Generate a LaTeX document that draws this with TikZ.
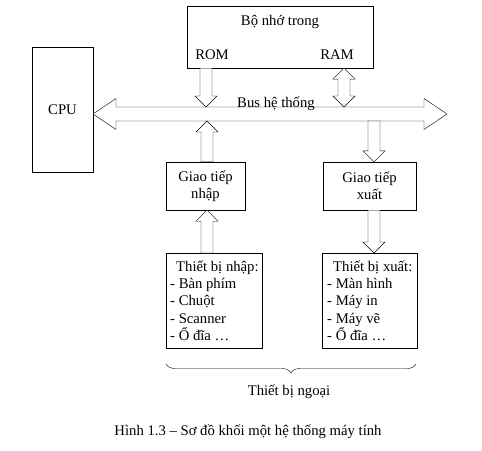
\documentclass[tikz,border=0pt]{standalone}
\usepackage{fontspec}
\setmainfont{Liberation Serif}
\usetikzlibrary{calc, positioning, decorations.pathreplacing}

\tikzset{
  box/.style={draw, rectangle, inner sep=0pt},
  blk/.style={draw, fill=white, line join=miter},
  txt/.style={inner sep=0pt}
}

% single block arrow at the x of #1, from #2 to #3
\newcommand{\sarrow}[3]{%
  \draw[blk] let \p1=(#1 |- #2), \p2=(#1 |- #3), \n1={11*sign(\y2-\y1)} in
    (\x1-6pt,\y1) -- (\x1-6pt,{\y2-\n1*1pt}) -- (\x1-11pt,{\y2-\n1*1pt}) -- (\x1,\y2)
    -- (\x1+11pt,{\y2-\n1*1pt}) -- (\x1+6pt,{\y2-\n1*1pt}) -- (\x1+6pt,\y1) -- cycle;}
% double block arrow
\newcommand{\darrow}[3]{%
  \draw[blk] let \p1=(#1 |- #2), \p2=(#1 |- #3), \n1={11*sign(\y2-\y1)} in
    (\x1,\y1) -- (\x1+11pt,{\y1+\n1*1pt}) -- (\x1+6pt,{\y1+\n1*1pt}) -- (\x1+6pt,{\y2-\n1*1pt})
    -- (\x1+11pt,{\y2-\n1*1pt}) -- (\x1,\y2) -- (\x1-11pt,{\y2-\n1*1pt}) -- (\x1-6pt,{\y2-\n1*1pt})
    -- (\x1-6pt,{\y1+\n1*1pt}) -- (\x1-11pt,{\y1+\n1*1pt}) -- cycle;}

\begin{document}
\begin{tikzpicture}[x=1pt, y=-1pt, font=\fontsize{14.7}{17.3}\selectfont]
\useasboundingbox (0,0) rectangle (482,450);

% blocks
\node[box, minimum width=186, minimum height=62] (mem) at (280,37) {};
\node[txt, anchor=base] (memt) at (280,25) {Bộ nhớ trong};
\node[txt, anchor=base] (rom) at (212,59) {ROM};
\node[txt, anchor=base] (ram) at (337,59) {RAM};
\node[box, minimum width=61, minimum height=125] (cpu) at (62.5,109.5) {CPU};
\node[box, minimum width=79, minimum height=48, align=center] (gtn) at (205.5,186) {Giao tiếp\\nhập};
\node[box, minimum width=93, minimum height=48, align=center] (gtx) at (369.5,186) {Giao tiếp\\xuất};
\node[box, anchor=north west, minimum width=95, minimum height=95, inner xsep=4, align=left] (tbn) at (166,253)
  {\hspace{6pt}Thiết bị nhập:\\- Bàn phím\\- Chuột\\- Scanner\\- Ổ đĩa …};
\node[box, anchor=north west, minimum width=94, minimum height=95, inner xsep=5, align=left] (tbx) at (322,253)
  {\hspace{6pt}Thiết bị xuất:\\- Màn hình\\- Máy in\\- Máy vẽ\\- Ổ đĩa …};

% bus
\coordinate (busL) at (93,114);
\coordinate (busR) at (447,114);
\coordinate (bustop) at (0,107);
\coordinate (busbot) at (0,121);
\draw[blk] (busL) -- ++(23,-15.5) -- ++(0,8.5) -- ($(busR)+(-23,-7)$) -- ++(0,-8.5) -- (busR)
  -- ++(-23,15.5) -- ++(0,-8.5) -- ($(busL)+(23,7)$) -- ++(0,8.5) -- cycle;
\node[txt, anchor=base] (bus) at (276,107) {Bus hệ thống};

% arrows
\coordinate (romx) at (206,0);
\coordinate (ramx) at (344,0);
\coordinate (inx) at (207,0);
\coordinate (outx) at (374,0);
\sarrow{romx}{mem.south}{bustop}
\darrow{ramx}{mem.south}{bustop}
\sarrow{inx}{gtn.north}{busbot}
\sarrow{outx}{busbot}{gtx.north}
\sarrow{inx}{tbn.north}{gtn.south}
\sarrow{outx}{gtx.south}{tbx.north}

% peripherals
\draw[decorate, decoration={brace, mirror, amplitude=9}] (166,364) -- (416,364);
\node[txt, anchor=base] (ngoai) at (289,395) {Thiết bị ngoại};
\node[txt, anchor=base] (cap) at (248,435) {Hình 1.3 – Sơ đồ khối một hệ thống máy tính};
\end{tikzpicture}
\end{document}
